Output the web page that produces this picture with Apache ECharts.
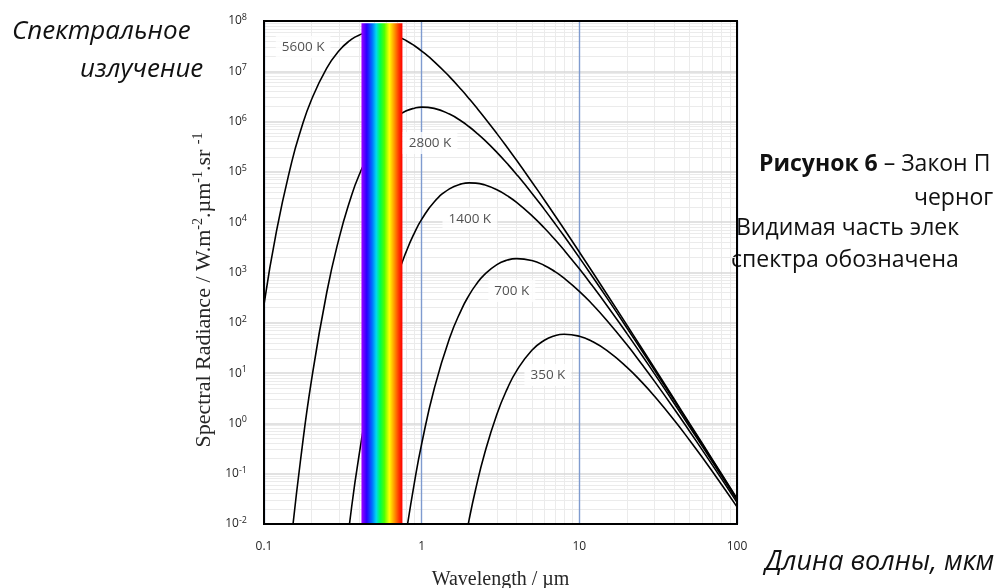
<!DOCTYPE html>
<html>
<head>
<meta charset="utf-8">
<script src="https://cdn.jsdelivr.net/npm/echarts@6/dist/echarts.min.js"></script>
<style>
html,body{margin:0;padding:0;background:#fff;}
#chart{width:1002px;height:588px;}
</style>
</head>
<body>
<div id="chart"></div>
<script>
// Wavelength samples (µm)
const wavelengths = [0.1,0.12,0.15,0.17,0.2,0.25,0.3,0.35,0.4,0.5,0.6,0.7,0.8,0.9,1,1.2,1.5,1.8,2,2.2,2.5,3,3.5,4,5,6,7,8,10,12,15,20,25,30,40,50,60,80,100];
// Spectral radiance values (W.m-2.µm-1.sr-1)
const rad5600 = [229,6670,1.58e5,6.35e5,2.72e6,1.16e7,2.59e7,4.07e7,5.23e7,6.20e7,5.86e7,5.00e7,4.06e7,3.22e7,2.53e7,1.56e7,7.84e6,4.19e6,2.85e6,1.99e6,1.21e6,5.77e5,3.02e5,1.70e5,6.32e4,2.77e4,1.36e4,7305,2553,1070,366,90.7,30.5,12.5,3.02,1.00,0.407,0.0975,0.0322];
const rad2800 = [null,null,0.00576,0.173,7.16,400,4945,2.64e4,8.49e4,3.63e5,8.10e5,1.27e6,1.64e6,1.85e6,1.94e6,1.83e6,1.41e6,1.006e6,7.90e5,6.19e5,4.33e5,2.45e5,1.447e5,8.92e4,3.78e4,1.80e4,9424,5298,1974,864,309,79.8,27.5,11.4,2.83,0.953,0.390,0.0944,0.0313];
const rad1400 = [null,null,null,null,null,null,1.8e-4,0.0111,0.224,12.5,155,826,2655,6140,1.136e4,2.53e4,4.60e4,5.79e4,6.05e4,5.99e4,5.54e4,4.42e4,3.33e4,2.47e4,1.35e4,7654,4523,2787,1181,563,219,61.7,22.4,9.64,2.49,0.860,0.358,0.0886,0.0298];
const rad700 = [null,null,null,null,null,null,null,null,null,null,null,null,0.0070,0.0675,0.391,4.83,48.7,192,355,561,908,1437,1769,1890,1731,1380,1042,771,423,239,110,36.9,14.8,6.84,1.93,0.700,0.301,0.0779,0.0269];
const rad350 = [null,null,null,null,null,null,null,null,null,null,null,null,null,null,null,null,null,0.0021,0.0122,0.0491,0.244,1.52,4.98,11.1,28.4,44.9,55.3,59.1,54.1,43.1,28.0,13.2,6.53,3.45,1.153,0.464,0.214,0.0602,0.0219];
const seriesNames = ['5600 K','2800 K','1400 K','700 K','350 K'];
const seriesValues = [rad5600, rad2800, rad1400, rad700, rad350];
// Curve label anchors (wavelength, radiance)
const labelWave = [0.177, 1.13, 2.02, 3.73, 6.32];
const labelRad = [3.04e7, 3.76e5, 1.16e4, 429, 9.16];
// Visible band (µm)
const visibleBand = [0.415, 0.755];
const yMinExp = -2, yMaxExp = 8;

const minorX = [];
for (let e = -1; e < 2; e++) for (let k = 2; k <= 9; k++) minorX.push(+(k * Math.pow(10, e)).toPrecision(3));
const minorY = [];
for (let e = yMinExp; e < yMaxExp; e++) for (let k = 2; k <= 9; k++) minorY.push(+(k * Math.pow(10, e)).toPrecision(3));

const chart = echarts.init(document.getElementById('chart'), null, {renderer: 'canvas'});

const curveSeries = seriesValues.map((vals, si) => ({
  type: 'line',
  name: seriesNames[si],
  data: wavelengths.map((x, i) => [x, vals[i]]).filter(p => p[1] !== null),
  smooth: 0.5,
  showSymbol: false,
  symbol: 'none',
  lineStyle: {color: '#000', width: 1.6},
  z: 3,
  silent: true
}));

const sansFont = '"Open Sans", "Noto Sans", sans-serif';
const serifFont = '"Liberation Serif", "DejaVu Serif", serif';

const option = {
  animation: false,
  backgroundColor: '#fff',
  grid: {left: 264, right: 265, top: 21, bottom: 64, z: 4, show: true, borderColor: '#000', borderWidth: 2, backgroundColor: 'transparent', containLabel: false, outerBoundsMode: 'none'},
  xAxis: {
    type: 'log', logBase: 10, min: 0.1, max: 100, interval: 1, z: 2,
    axisLine: {show: true, lineStyle: {color: '#000', width: 2}},
    axisTick: {show: false},
    axisLabel: {
      fontFamily: sansFont, fontSize: 12, color: '#262626', margin: 17,
      formatter: v => String(v)
    },
    splitLine: {show: true, lineStyle: {color: '#7F9BCF', width: 1.4}},
    name: 'Wavelength / µm', nameLocation: 'middle', nameGap: 46,
    nameTextStyle: {fontFamily: serifFont, fontSize: 20, color: '#262626'}
  },
  yAxis: {
    type: 'log', logBase: 10, min: 0.01, max: 1e8, interval: 1, splitNumber: 10, z: 2,
    axisLine: {show: true, lineStyle: {color: '#000', width: 2}},
    axisTick: {show: false},
    axisLabel: {
      margin: 17, hideOverlap: false, showMinLabel: true, showMaxLabel: true,
      formatter: v => '{b|10}{s|' + Math.round(Math.log10(v)) + '}',
      rich: {
        b: {fontFamily: sansFont, fontSize: 12, color: '#262626', lineHeight: 16},
        s: {fontFamily: sansFont, fontSize: 9, color: '#262626', verticalAlign: 'top', lineHeight: 16, padding: [0,0,6,0]}
      }
    },
    splitLine: {show: true, lineStyle: {color: '#d9d9d9', width: 1.5}}
  },
  graphic: [
    {type: 'text', x: 204, y: 290, rotation: Math.PI / 2, silent: true,
     style: {
       text: '{n|Spectral Radiance / W.m}{s|-2}{n|.µm}{s|-1}{n|.sr }{s|-1}',
       align: 'center', verticalAlign: 'middle',
       rich: {
         n: {fontFamily: serifFont, fontSize: 22, fill: '#262626', lineHeight: 26},
         s: {fontFamily: serifFont, fontSize: 14, fill: '#262626', lineHeight: 26, verticalAlign: 'top', padding: [0,0,9,0]}
       }
     }},
    {type: 'text', x: 12, y: 32, silent: true,
     style: {text: 'Спектральное', font: 'italic 26px "Open Sans", sans-serif', fill: '#111', align: 'left', verticalAlign: 'middle'}},
    {type: 'text', x: 80, y: 70, silent: true,
     style: {text: 'излучение', font: 'italic 26px "Open Sans", sans-serif', fill: '#111', align: 'left', verticalAlign: 'middle'}},
    {type: 'text', x: 759, y: 164, silent: true,
     style: {text: '{b|Рисунок 6}{n| – Закон П}', align: 'left', verticalAlign: 'middle',
       rich: {b: {fontFamily: '"Open Sans", sans-serif', fontWeight: 'bold', fontSize: 23, fill: '#111'},
              n: {fontFamily: '"Open Sans", sans-serif', fontSize: 23, fill: '#111'}}}},
    {type: 'text', x: 914, y: 198, silent: true,
     style: {text: 'черног', font: '23px "Open Sans", sans-serif', fill: '#111', align: 'left', verticalAlign: 'middle'}},
    {type: 'text', x: 736, y: 228, silent: true,
     style: {text: 'Видимая часть элек', font: '23px "Open Sans", sans-serif', fill: '#111', align: 'left', verticalAlign: 'middle'}},
    {type: 'text', x: 731, y: 260, silent: true,
     style: {text: 'спектра обозначена', font: '23px "Open Sans", sans-serif', fill: '#111', align: 'left', verticalAlign: 'middle'}},
    {type: 'text', x: 765, y: 562, silent: true,
     style: {text: 'Длина волны, мкм', font: 'italic 27px "Open Sans", sans-serif', fill: '#111', align: 'left', verticalAlign: 'middle'}}
  ],
  series: [
    {
      type: 'line', data: [], silent: true, z: 1,
      markLine: {
        silent: true, z: 1, symbol: ['none', 'none'], label: {show: false}, animation: false,
        lineStyle: {color: '#ebebeb', width: 1, type: 'solid'},
        data: minorX.map(v => ({xAxis: v})).concat(minorY.map(v => ({yAxis: v})))
      }
    },
    ...curveSeries,
    {
      type: 'line', data: [], silent: true, z: 5,
      markArea: {
        silent: true, z: 5,
        itemStyle: {
          color: new echarts.graphic.LinearGradient(0, 0, 1, 0, [
            {offset: 0, color: '#a000ff'},
            {offset: 0.13, color: '#2a00ff'},
            {offset: 0.26, color: '#0070ff'},
            {offset: 0.36, color: '#00d8f0'},
            {offset: 0.46, color: '#00ff50'},
            {offset: 0.56, color: '#50ff00'},
            {offset: 0.68, color: '#ffff00'},
            {offset: 0.8, color: '#ff9a00'},
            {offset: 0.92, color: '#ff3000'},
            {offset: 1, color: '#ff0000'}
          ])
        },
        data: [[{xAxis: visibleBand[0], yAxis: 0.0105}, {xAxis: visibleBand[1], yAxis: 9.0e7}]]
      }
    },
    {
      type: 'scatter', z: 6, silent: true, symbolSize: 0,
      data: labelWave.map((x, i) => ({value: [x, labelRad[i]], name: seriesNames[i]})),
      label: {
        show: true, position: 'inside', formatter: p => p.name,
        fontFamily: sansFont, fontSize: 13.5, color: '#262626',
        backgroundColor: '#fff', padding: [4, 6]
      }
    }
  ]
};
chart.setOption(option);
</script>
</body>
</html>
